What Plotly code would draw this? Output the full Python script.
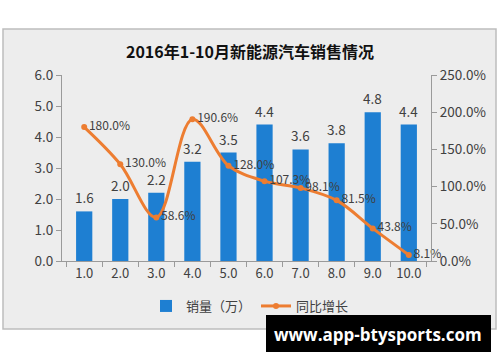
import plotly.graph_objects as go

months = ["1.0", "2.0", "3.0", "4.0", "5.0", "6.0", "7.0", "8.0", "9.0", "10.0"]
sales = [1.6, 2.0, 2.2, 3.2, 3.5, 4.4, 3.6, 3.8, 4.8, 4.4]
growth = [180.0, 130.0, 58.6, 190.6, 128.0, 107.3, 98.1, 81.5, 43.8, 8.1]
left_ticks = [0, 1, 2, 3, 4, 5, 6]
right_ticks = [0, 50, 100, 150, 200, 250]

FONT = "Noto Sans CJK SC"
TXT = "#404040"

# plot area in px: x 62..431, y 75..261
L, R, T, B = 62, 431, 75, 261
W, H = R - L, B - T
def fx(px): return (px - L) / W
def fy(py): return (B - py) / H

fig = go.Figure()
fig.add_trace(go.Bar(
    x=months, y=sales, name="销量（万）",
    marker=dict(color="#1E7FD2", line=dict(width=0)),
    width=0.45,
))
fig.add_trace(go.Scatter(
    x=months, y=growth, name="同比增长", yaxis="y2",
    mode="lines+markers+text", line=dict(color="#ED7D31", width=3, shape="spline"),
    marker=dict(color="#ED7D31", size=6),
    text=[f"{v:.1f}%" for v in growth], textposition="middle right",
    textfont=dict(size=12, color=TXT, family=FONT),
    cliponaxis=False,
))

annotations = [
    dict(text=f"{v:.1f}", x=i, y=v, xref="x", yref="y", showarrow=False,
         yanchor="middle", yshift=14, font=dict(size=13.5, color=TXT, family=FONT))
    for i, v in enumerate(sales)
]
annotations.append(
    dict(text="<b>www.app-btysports.com</b>", xref="paper", yref="paper",
         x=fx(378), y=fy(334), xanchor="center", yanchor="middle", showarrow=False,
         font=dict(size=17, color="white", family="Open Sans"))
)

fig.update_layout(
    width=500, height=362,
    margin=dict(l=L, r=500 - R, t=T, b=362 - B),
    paper_bgcolor="white", plot_bgcolor="rgba(0,0,0,0)",
    font=dict(family=FONT, size=13, color=TXT),
    title=dict(text="<b>2016年1-10月新能源汽车销售情况</b>", x=0.5, xanchor="center",
               y=1 - 52 / 362, yanchor="middle", yref="container",
               font=dict(size=16, color="#111111", family=FONT)),
    bargap=0.5,
    xaxis=dict(type="category", showline=True, linecolor="#9A9A9A", ticks="outside",
               tickson="boundaries", ticklen=5, tickcolor="#9A9A9A", tickangle=0,
               tickfont=dict(size=13, color=TXT), showgrid=False),
    yaxis=dict(range=[0, 6], tickvals=left_ticks, ticktext=[f"{v:.1f}" for v in left_ticks],
               showline=True, linecolor="#9A9A9A", ticks="outside", ticklen=5,
               tickcolor="#9A9A9A", showgrid=False, zeroline=False,
               tickfont=dict(size=13.5, color=TXT)),
    yaxis2=dict(range=[0, 250], overlaying="y", side="right", tickvals=right_ticks,
                ticktext=[f"{v:.1f}%" for v in right_ticks], showline=True,
                linecolor="#9A9A9A", ticks="outside", ticklen=5, tickcolor="#9A9A9A",
                showgrid=False, zeroline=False, tickfont=dict(size=13.5, color=TXT)),
    legend=dict(orientation="h", x=fx(250), xanchor="center", y=fy(306), yanchor="middle",
                bgcolor="rgba(0,0,0,0)", font=dict(size=13, color=TXT)),
    showlegend=True,
    shapes=[
        dict(type="rect", xref="paper", yref="paper", x0=fx(3), x1=fx(496), y0=fy(329), y1=fy(29),
             fillcolor="#EDEDED", line=dict(color="#BDBDBD", width=1.5), layer="below"),
        dict(type="rect", xref="paper", yref="paper", x0=fx(266), x1=fx(491), y0=fy(352), y1=fy(315),
             fillcolor="black", line=dict(width=0), layer="above"),
    ],
    annotations=annotations,
)

fig.write_html("out.html", config={"displayModeBar": False},
               post_script="document.body.style.margin='0';")
